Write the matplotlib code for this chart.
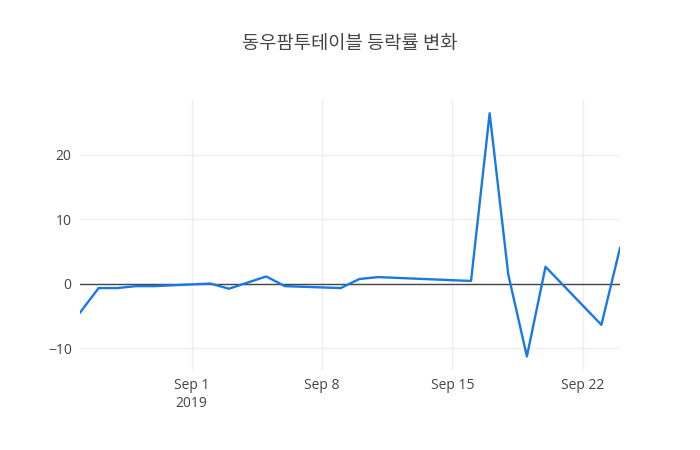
import matplotlib
matplotlib.use("Agg")
import matplotlib.pyplot as plt
import matplotlib.dates as mdates
import numpy as np
import datetime as dt

dates = ["2019-08-26", "2019-08-27", "2019-08-28", "2019-08-29", "2019-08-30",
         "2019-09-02", "2019-09-03", "2019-09-05", "2019-09-06", "2019-09-09",
         "2019-09-10", "2019-09-11", "2019-09-16", "2019-09-17", "2019-09-18",
         "2019-09-19", "2019-09-20", "2019-09-23", "2019-09-24"]
values = [-4.5, -0.7, -0.7, -0.4, -0.4,
          0.0, -0.8, 1.1, -0.4, -0.7,
          0.7, 1.0, 0.4, 26.4, 1.4,
          -11.3, 2.6, -6.4, 5.5]
tick_dates = ["2019-09-01", "2019-09-08", "2019-09-15", "2019-09-22"]
tick_labels = ["Sep 1\n2019", "Sep 8", "Sep 15", "Sep 22"]
y_ticks = [-10, 0, 10, 20]
title = "동우팜투테이블 등락률 변화"

x = [dt.datetime.strptime(d, "%Y-%m-%d") for d in dates]
xt = [dt.datetime.strptime(d, "%Y-%m-%d") for d in tick_dates]

fig = plt.figure(figsize=(7, 4.5), dpi=100)
ax = fig.add_axes([80/700, 80/450, 540/700, 270/450])

ax.plot(x, values, color="#1a78e6", linewidth=1.7, zorder=3)
ax.axhline(0, color="#444444", linewidth=1, zorder=2)

ax.set_xlim(x[0], x[-1])
ax.set_ylim(-13.4, 28.45)

ax.set_xticks(xt)
ax.set_xticklabels(tick_labels)
ax.set_yticks(y_ticks)
ax.set_yticklabels([str(v).replace("-", "\u2212") for v in y_ticks])

ax.grid(True, color="#eeeeee", linewidth=1, zorder=0)
ax.set_axisbelow(True)
for s in ax.spines.values():
    s.set_visible(False)
ax.tick_params(length=0, labelsize=10, colors="#444444", pad=6)
for lbl in ax.get_xticklabels() + ax.get_yticklabels():
    lbl.set_family(["Open Sans", "DejaVu Sans"])

fig.text(350/700, 1 - 43/450, title, ha="center", va="center",
         fontsize=13.5, color="#444444", family=["Noto Sans CJK KR", "DejaVu Sans"])

fig.savefig("out.png", dpi=100, facecolor="white")
